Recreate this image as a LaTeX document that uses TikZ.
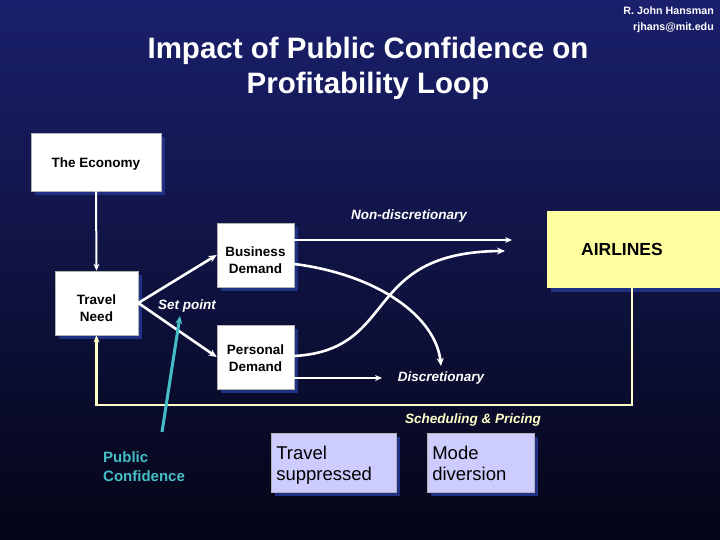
\documentclass[tikz,border=0pt]{standalone}
\usepackage{fontspec}
\setmainfont{Liberation Sans}
\usetikzlibrary{arrows.meta,shadows,calc}
\definecolor{bgtop}{RGB}{26,32,108}
\definecolor{bgbot}{RGB}{4,5,22}
\definecolor{shadowblue}{RGB}{32,48,130}
\definecolor{paleyellow}{RGB}{255,255,160}
\definecolor{lineyellow}{RGB}{255,255,200}
\definecolor{lavender}{RGB}{204,204,255}
\definecolor{pccyan}{RGB}{70,190,200}
\tikzset{
  every node/.style={font=\fontsize{13.5}{17}\selectfont\bfseries},
  box/.style={draw=gray!60, line width=0.6pt, fill=white, text=black, align=center,
    drop shadow={shadow xshift=4pt, shadow yshift=-4pt, fill=shadowblue, opacity=1}},
  boxtext/.style={text=black, align=center, yshift=-5pt},
  lavbox/.style={box, fill=lavender, align=left, anchor=north west, inner sep=0pt,
    font=\fontsize{18.5}{22}\selectfont},
  conn/.style={draw=white, line width=2.6pt, -{Stealth[length=8pt,width=7pt]}},
  thinconn/.style={draw=white, line width=2pt, -{Stealth[length=7pt,width=6pt]}},
  lbl/.style={text=white, font=\fontsize{13.5}{16}\selectfont\bfseries\itshape},
}
\begin{document}
\begin{tikzpicture}[x=1pt,y=-1pt]
\useasboundingbox (0,0) rectangle (720,540);
\fill[top color=bgtop, bottom color=bgbot] (0,0) rectangle (720,540);

% title and author
\node[text=white, align=center, font=\fontsize{29.5}{35}\selectfont\bfseries] (title) at (368,68)
  {Impact of Public Confidence on\\Profitability Loop};
\node[text=white, align=right, anchor=north east, inner sep=0pt, font=\fontsize{10.7}{15.5}\selectfont\bfseries] (author) at (714,7)
  {R. John Hansman\\rjhans@mit.edu};

% boxes
\node[box, minimum width=130pt, minimum height=58pt,
  label={[boxtext, yshift=3pt]center:The Economy}] (eco) at (96,162) {};
\node[box, minimum width=83pt, minimum height=64pt,
  label={[boxtext]center:Travel\\Need}] (tn) at (96.5,303) {};
\node[box, minimum width=77pt, minimum height=64pt,
  label={[boxtext]center:Business\\Demand}] (bd) at (255.5,255) {};
\node[box, minimum width=77pt, minimum height=64pt,
  label={[boxtext, yshift=4pt]center:Personal\\Demand}] (pd) at (255.5,357) {};
\node[box, draw=none, fill=paleyellow, minimum width=176pt, minimum height=77pt,
  label={[xshift=-13pt, font=\fontsize{17.5}{20}\selectfont\bfseries, text=black]center:AIRLINES}] (air) at (635,249.5) {};

\node[lavbox, minimum width=125pt, minimum height=59pt, text width=119pt] (ts) at (271,433)
  {\hspace*{2pt}\begin{tabular}{@{}l@{}}\\[-16pt]Travel\\[-1pt]suppressed\end{tabular}};
\node[lavbox, minimum width=107pt, minimum height=59pt, text width=101pt] (md) at (427,433)
  {\hspace*{2pt}\begin{tabular}{@{}l@{}}\\[-16pt]Mode\\[-1pt]diversion\end{tabular}};

% labels
\node[lbl] (setpoint) at (187,306) {Set point};
\node[lbl] (nondisc) at (409,216) {Non-discretionary};
\node[lbl] (disc) at (441,378) {Discretionary};
\node[lbl, text=lineyellow] (sched) at (473,420) {Scheduling \& Pricing};
\node[text=pccyan, align=left, anchor=north west, inner sep=0pt, font=\fontsize{15}{19}\selectfont\bfseries] (pc) at (103,451)
  {Public\\Confidence};

% coordinates
\coordinate (ndend) at (512,240);
\coordinate (dend) at (382,378);
\coordinate (bcend) at (441,366);
\coordinate (pcend) at (505,251);
\coordinate (fb) at (632,405);
\coordinate (pcs) at (162,432);
\coordinate (pct) at (180,316);

% connectors
\draw[thinconn] (eco.south) -- (tn.north);
\draw[conn] (tn.east) -- (bd.west);
\draw[conn] (tn.east) -- (pd.west);
\draw[thinconn] ([yshift=15pt]bd.east) -- (ndend);
\draw[thinconn] ([yshift=-21pt]pd.east) -- (dend);
\draw[conn] ([yshift=-9pt]bd.east) .. controls (380,275) and (436,318) .. (bcend);
\draw[conn] ([yshift=1pt]pd.east) .. controls (400,350) and (360,252) .. (pcend);
\draw[draw=lineyellow, line width=2.2pt, -{Stealth[length=7pt,width=6pt]}]
  (air.south -| fb) -- (fb) -| (tn.south);
\draw[draw=pccyan, line width=3pt, -{Stealth[length=8pt,width=7pt]}] (pcs) -- (pct);
\end{tikzpicture}
\end{document}
